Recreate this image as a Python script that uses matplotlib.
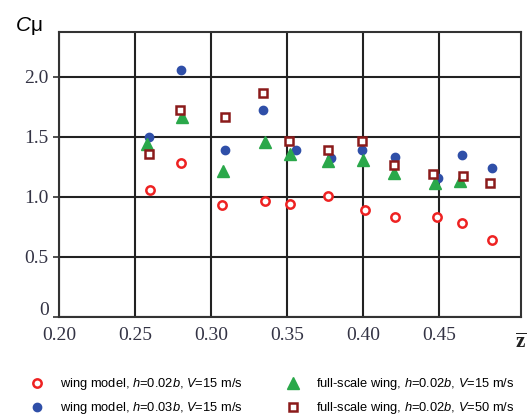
import matplotlib
matplotlib.use("Agg")
import matplotlib.pyplot as plt
import matplotlib.transforms as mtransforms

plt.rcParams['mathtext.fontset'] = 'custom'
plt.rcParams['mathtext.rm'] = 'Liberation Sans'
plt.rcParams['mathtext.it'] = 'Liberation Sans:italic'
plt.rcParams['mathtext.bf'] = 'Liberation Serif:bold'

# Data
x_red = [0.260, 0.280, 0.307, 0.3355, 0.352, 0.377, 0.401, 0.421, 0.449, 0.465, 0.485]
y_red = [1.054, 1.284, 0.929, 0.968, 0.940, 1.007, 0.891, 0.830, 0.835, 0.783, 0.645]

x_blue = [0.259, 0.280, 0.309, 0.334, 0.356, 0.379, 0.3995, 0.421, 0.4495, 0.465, 0.485]
y_blue = [1.497, 2.055, 1.394, 1.721, 1.394, 1.328, 1.394, 1.331, 1.156, 1.350, 1.239]

x_green = [0.2577, 0.281, 0.308, 0.3355, 0.352, 0.377, 0.400, 0.4205, 0.4475, 0.464]
y_green = [1.441, 1.663, 1.217, 1.455, 1.355, 1.295, 1.308, 1.203, 1.118, 1.134]

x_sq = [0.259, 0.2796, 0.309, 0.334, 0.3513, 0.377, 0.3996, 0.4205, 0.4463, 0.4655, 0.4835]
y_sq = [1.361, 1.723, 1.668, 1.867, 1.466, 1.394, 1.463, 1.267, 1.189, 1.176, 1.115]

x_ticks = [0.20, 0.25, 0.30, 0.35, 0.40, 0.45]
x_ticklabels = ['0.20', '0.25', '0.30', '0.35', '0.40', '0.45']
y_ticks = [0, 0.5, 1.0, 1.5, 2.0]
y_ticklabels = ['0', '0.5', '1.0', '1.5', '2.0']

labels = [
    'wing model, $h$=0.02$b$, $V$=15 m/s',
    'wing model, $h$=0.03$b$, $V$=15 m/s',
    'full-scale wing, $h$=0.02$b$, $V$=15 m/s',
    'full-scale wing, $h$=0.02$b$, $V$=50 m/s',
]

fig = plt.figure(figsize=(5.29, 4.16), dpi=100)
ax = fig.add_axes([0.1115, 0.238, 0.8735, 0.685])

h1, = ax.plot(x_red, y_red, 'o', ms=6, mfc='white', mec='#ee2222', mew=1.8, ls='none', zorder=3)
h2, = ax.plot(x_blue, y_blue, 'o', ms=6, mfc='#2f4fa8', mec='#2f4fa8', ls='none', zorder=3)
h3, = ax.plot(x_green, y_green, '^', ms=8, mfc='#2aa84a', mec='#2aa84a', ls='none', zorder=3)
h4, = ax.plot(x_sq, y_sq, 's', ms=6.2, mfc='white', mec='#8b1a1a', mew=1.8, ls='none', zorder=3)

ax.set_xlim(0.20, 0.504)
ax.set_ylim(0, 2.373)
ax.set_xticks(x_ticks)
ax.set_xticklabels(x_ticklabels)
ax.set_yticks(y_ticks)
ax.set_yticklabels(y_ticklabels)
ax.grid(True, color='#222222', lw=1.5)
ax.set_axisbelow(True)
for s in ax.spines.values():
    s.set_color('#333333')
    s.set_linewidth(1.5)
ax.tick_params(axis='both', length=4, width=1.2, color='#333333', direction='out')
ax.tick_params(axis='x', length=0, pad=7)
for t in ax.get_xticklabels() + ax.get_yticklabels():
    t.set_fontfamily('Liberation Serif')
    t.set_fontsize(14)
    t.set_color('#333344')

# raise the "0" y label slightly, as in the reference
zero_lbl = ax.get_yticklabels()[0]
zero_lbl.set_transform(zero_lbl.get_transform() +
                       mtransforms.ScaledTranslation(0, 6 / 72, fig.dpi_scale_trans))

fig.text(0.028, 0.925, r'$C$μ', fontsize=15, family='Liberation Sans', color='black')
fig.text(0.985, 0.178, r'$\overline{\mathbf{z}}$', fontsize=15, color='#222222', ha='center', va='center')

fig.legend([h1, h2, h3, h4], labels, ncol=2, loc='upper left',
           bbox_to_anchor=(0.055, 0.095), frameon=False,
           prop={'family': 'Liberation Sans', 'size': 9.3},
           handletextpad=1.2, columnspacing=3.3, labelspacing=0.6,
           handlelength=1.2, borderaxespad=0, borderpad=0)

fig.savefig('out.png', dpi=100)
